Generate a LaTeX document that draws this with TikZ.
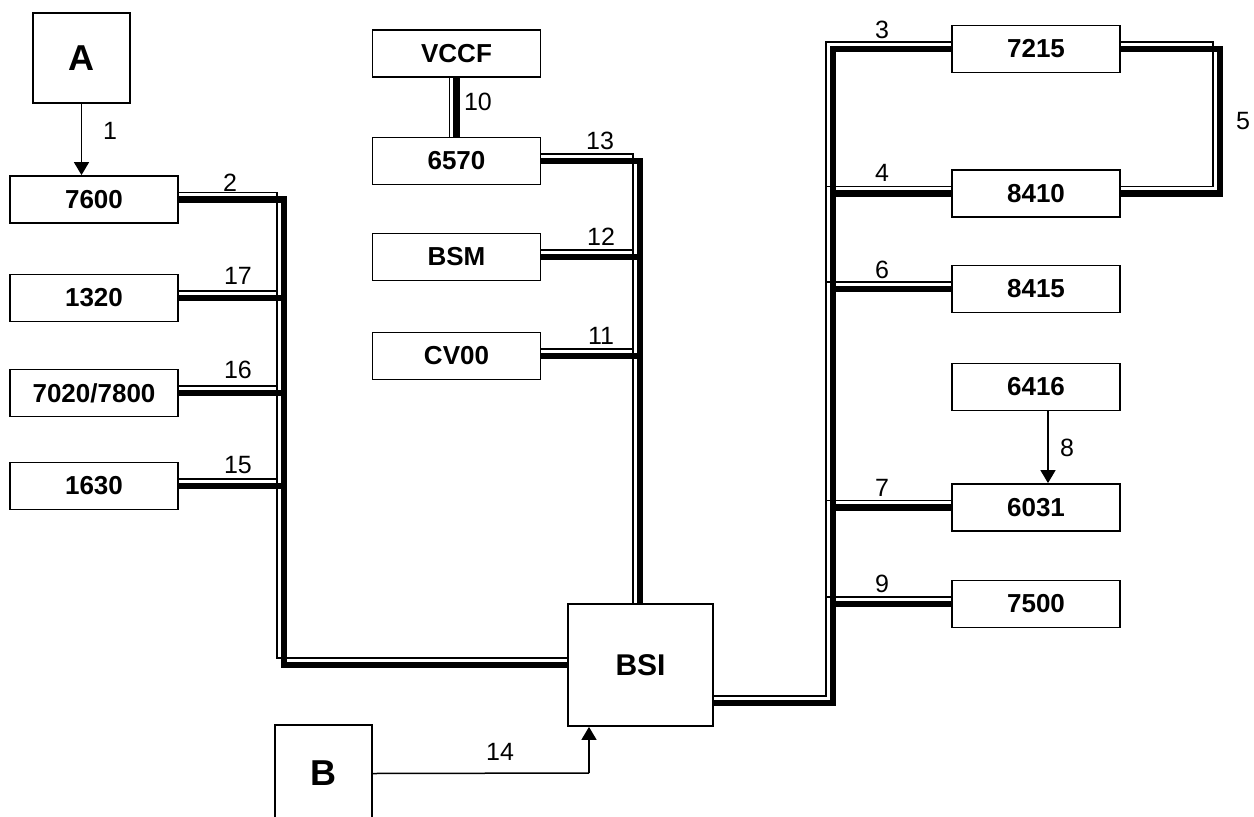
\documentclass[tikz,border=0pt]{standalone}
\usepackage{fontspec}
\setmainfont{Liberation Sans}
\usetikzlibrary{arrows.meta,backgrounds}
\begin{document}
\begin{tikzpicture}[x=1pt,y=-1pt,
  box/.style={draw,fill=white,line width=1.8pt,minimum width=168pt,minimum height=47pt,inner sep=0pt,font=\fontsize{26}{30}\selectfont\bfseries},
  bigbox/.style={draw,fill=white,line width=1.8pt,minimum width=97pt,minimum height=90pt,inner sep=0pt,font=\fontsize{36}{40}\selectfont\bfseries},
  bsibox/.style={draw,fill=white,line width=1.8pt,minimum width=145pt,minimum height=122pt,inner sep=0pt,font=\fontsize{30}{34}\selectfont\bfseries},
  lbl/.style={font=\fontsize{25}{28}\selectfont,inner sep=0pt},
  bus/.style={line width=6.5pt,preaction={draw,line width=1.5pt,transform canvas={shift={(-7,-7)}}}},
  link/.style={line width=1.5pt},
  arr/.style={line width=1.5pt,-{Triangle[length=13pt,width=15pt]}}]
\useasboundingbox (0,0) rectangle (1254,817);

% boxes
\node[bigbox] (A) at (81.5,58) {A};
\node[box] (n7600) at (94,199.5) {7600};
\node[box] (n1320) at (94,298) {1320};
\node[box] (n7020) at (94,393) {7020/7800};
\node[box] (n1630) at (94,486) {1630};
\node[box] (vccf) at (456.5,53.5) {VCCF};
\node[box] (n6570) at (456.5,161) {6570};
\node[box] (bsm) at (456.5,257) {BSM};
\node[box] (cv00) at (456.5,356) {CV00};
\node[bsibox] (bsi) at (640.5,665) {BSI};
\node[bigbox,minimum height=97pt] (B) at (323.5,773.5) {B};
\node[box] (n7215) at (1036,49) {7215};
\node[box] (n8410) at (1036,193.5) {8410};
\node[box] (n8415) at (1036,289) {8415};
\node[box] (n6416) at (1036,387) {6416};
\node[box] (n6031) at (1036,507.5) {6031};
\node[box] (n7500) at (1036,604) {7500};

% junction points
\coordinate (L1) at (284,199.5);
\coordinate (L2) at (284,665);
\coordinate (M1) at (640,161);
\coordinate (R1) at (833,49);
\coordinate (R2) at (833,703);
\coordinate (F1) at (1220,49);
\coordinate (K) at (589,773);

\begin{scope}[on background layer]
  % left bus
  \draw[bus] (n7600.east) -- (L1) -- (L2) -- ([xshift=12pt]bsi.west);
  \draw[bus] (n1320.east) -- (n1320.east -| L1);
  \draw[bus] (n7020.east) -- (n7020.east -| L1);
  \draw[bus] (n1630.east) -- (n1630.east -| L1);
  % middle bus
  \draw[bus] (n6570.east) -- (M1) -- ([yshift=-12pt]M1 |- bsi.north);
  \draw[bus] (bsm.east) -- (bsm.east -| M1);
  \draw[bus] (cv00.east) -- (cv00.east -| M1);
  \draw[bus] (vccf.south) -- ([yshift=-12pt]n6570.north);
  % right bus
  \draw[bus] ([xshift=12pt]n7215.west) -- (R1) -- (R2) -- (R2 -| bsi.east);
  \draw[bus] ([xshift=12pt]n8410.west) -- (n8410.west -| R1);
  \draw[bus] ([xshift=12pt]n8415.west) -- (n8415.west -| R1);
  \draw[bus] ([xshift=12pt]n6031.west) -- (n6031.west -| R1);
  \draw[bus] ([xshift=12pt]n7500.west) -- (n7500.west -| R1);
  % loop 5
  \draw[bus] (n7215.east) -- (F1) -- (F1 |- n8410.east) -- (n8410.east);
\end{scope}

% arrows
\draw[arr] (A.south) -- (A.south |- n7600.north);
\draw[arr] ([xshift=12pt]n6416.south) -- ([xshift=12pt]n6416.south |- n6031.north);
\draw[link] (B.east) -- (K);
\draw[arr] (K) -- (K |- bsi.south);

% labels
\node[lbl] (l1) at (110,131) {1};
\node[lbl] (l2) at (230,183) {2};
\node[lbl] (l17) at (238,276) {17};
\node[lbl] (l16) at (238,370) {16};
\node[lbl] (l15) at (238,465) {15};
\node[lbl] (l10) at (478,102) {10};
\node[lbl] (l13) at (600,141) {13};
\node[lbl] (l12) at (601,237) {12};
\node[lbl] (l11) at (601,336) {11};
\node[lbl] (l14) at (500,752) {14};
\node[lbl] (l3) at (882,30) {3};
\node[lbl] (l4) at (882,173) {4};
\node[lbl] (l5) at (1243,121) {5};
\node[lbl] (l6) at (882,270) {6};
\node[lbl] (l7) at (882,488) {7};
\node[lbl] (l8) at (1067,448) {8};
\node[lbl] (l9) at (882,584) {9};
\end{tikzpicture}
\end{document}
